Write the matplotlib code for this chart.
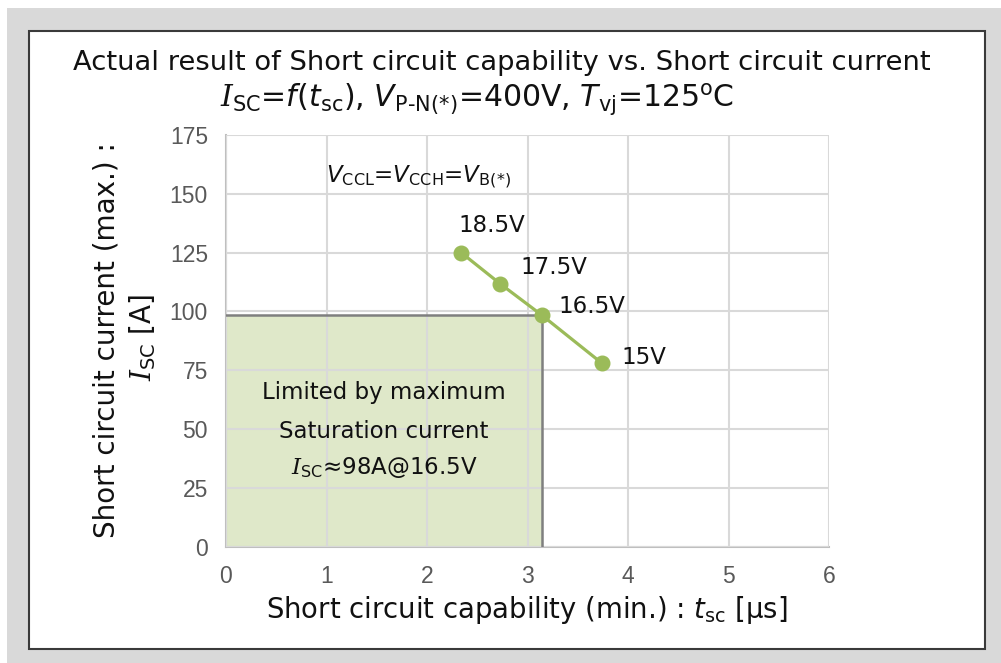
import matplotlib
matplotlib.use("Agg")
import matplotlib.pyplot as plt
from matplotlib.patches import Rectangle

# ---- data ----
t_sc = [2.34, 2.73, 3.14, 3.74]          # short circuit capability [us]
i_sc = [125.0, 111.7, 98.5, 78.0]        # short circuit current [A]
v_labels = ["18.5V", "17.5V", "16.5V", "15V"]
limit_t = 3.14
limit_i = 98.5
x_ticks = [0, 1, 2, 3, 4, 5, 6]
y_ticks = [0, 25, 50, 75, 100, 125, 150, 175]

plt.rcParams['font.family'] = ['DejaVu Sans']
plt.rcParams['mathtext.fontset'] = 'custom'
plt.rcParams['mathtext.rm'] = 'DejaVu Sans'
plt.rcParams['mathtext.it'] = 'DejaVu Serif:italic'
plt.rcParams['mathtext.sf'] = 'DejaVu Sans:italic'

W, H = 1001, 663
fig = plt.figure(figsize=(W / 100, H / 100), dpi=100)
fig.patch.set_facecolor('white')

def px(x, y, w, h):
    return (x / W, 1 - (y + h) / H, w / W, h / H)

# gray background and white framed box
bx = px(7, 8, 994, 655)
fig.patches.append(Rectangle(bx[:2], bx[2], bx[3], transform=fig.transFigure,
                             facecolor='#d9d9d9', edgecolor='none', zorder=-3))
wb = px(29, 31, 956, 618)
fig.patches.append(Rectangle(wb[:2], wb[2], wb[3], transform=fig.transFigure,
                             facecolor='white', edgecolor='#3a3a3a', linewidth=1.5, zorder=-2))

ax = fig.add_axes([226 / W, 1 - 546.7 / H, 603 / W, 411.7 / H])
ax.set_zorder(2)
ax.set_facecolor('none')
ax.set_xlim(0, 6)
ax.set_ylim(0, 175)
ax.set_xticks(x_ticks)
ax.set_yticks(y_ticks)
ax.grid(True, color='#d9d9d9', linewidth=1.5, zorder=2)
ax.set_axisbelow(False)
for s in ['top', 'right']:
    ax.spines[s].set_visible(False)
for s in ['left', 'bottom']:
    ax.spines[s].set_color('#bfbfbf')
    ax.spines[s].set_linewidth(1.5)
ax.tick_params(length=0, pad=13, labelsize=16.5, labelcolor='#595959')
for lab in ax.get_xticklabels() + ax.get_yticklabels():
    lab.set_family('Liberation Sans')

# limited region
ax.add_patch(Rectangle((0, 0), limit_t, limit_i, facecolor='#dfe8c9',
                       edgecolor='none', zorder=1))
ax.plot([0, limit_t, limit_t], [limit_i, limit_i, 0], color='#7f7f7f',
        linewidth=1.8, zorder=3)

# series
ax.plot(t_sc, i_sc, color='#9bbb59', linewidth=2.3, marker='o',
        markersize=10.5, zorder=5, clip_on=False)

offsets = [(-3, 27), (20, 16), (17, 8), (20, 6)]
for x, y, lab, off in zip(t_sc, i_sc, v_labels, offsets):
    ax.annotate(lab, (x, y), xytext=off, textcoords='offset pixels',
                ha='left', va='center', fontsize=16.5, color='#111111', zorder=6)

ax.text(1.0, 157, r'$\mathsf{V}_\mathrm{CCL}$=$\mathsf{V}_\mathrm{CCH}$=$\mathsf{V}_{\text{B(*)}}$',
        ha='left', va='center', fontsize=16.5, color='#111111')

cx = limit_t / 2
ax.text(cx, (546.7 - 393) / 2.352, 'Limited by maximum', ha='center', va='center',
        fontsize=16.5, color='#111111', zorder=6)
ax.text(cx, (546.7 - 432) / 2.352, 'Saturation current', ha='center', va='center',
        fontsize=16.5, color='#111111', zorder=6)
ax.text(cx, (546.7 - 468) / 2.352, r'$\mathit{I}_\mathrm{SC}$≈98A@16.5V', ha='center',
        va='center', fontsize=16.5, color='#111111', zorder=6)

# titles
fig.text(502 / W, 1 - 63 / H, 'Actual result of Short circuit capability vs. Short circuit current',
         ha='center', va='center', fontsize=19.7, color='#111111')
fig.text(477 / W, 1 - 99 / H,
         r'$\mathit{I}_\mathrm{SC}$=$\mathsf{f}$($\mathsf{t}_\mathrm{sc}$), '
         r'$\mathsf{V}_{\text{P-N(*)}}$=400V, $\mathsf{T}_\mathrm{vj}$=125$^\mathrm{o}$C',
         ha='center', va='center', fontsize=21.5, color='#111111')

# axis labels
fig.text(527 / W, 1 - 610 / H, r'Short circuit capability (min.) : $\mathsf{t}_\mathrm{sc}$ [μs]',
         ha='center', va='center', fontsize=19.8, color='#111111')
fig.text(107 / W, 1 - 340 / H, 'Short circuit current (max.) :', rotation=90,
         ha='center', va='center', fontsize=20, color='#111111')
fig.text(143 / W, 1 - 337 / H, r'$\mathit{I}_\mathrm{SC}$ [A]', rotation=90,
         ha='center', va='center', fontsize=20, color='#111111')

fig.savefig('out.png', dpi=100)
